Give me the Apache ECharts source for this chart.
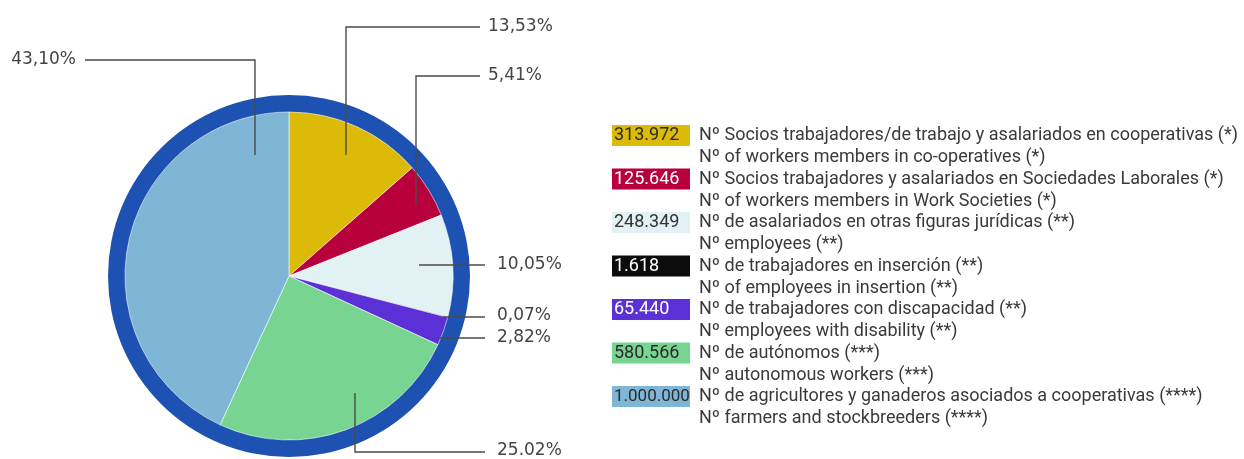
<!DOCTYPE html>
<html>
<head>
<meta charset="utf-8">
<script src="https://cdn.jsdelivr.net/npm/echarts@6/dist/echarts.min.js"></script>
<style>
  html, body { margin: 0; padding: 0; background: #fff; }
  #main { width: 1244px; height: 459px; }
</style>
</head>
<body>
<div id="main"></div>
<script>
// datos del gráfico
const keys = ['coop', 'sal', 'otras', 'insercion', 'discap', 'autonomos', 'agric'];
const shares = [13.53, 5.41, 10.05, 0.07, 2.82, 25.02, 43.10];
const shareLabels = ['13,53%', '5,41%', '10,05%', '0,07%', '2,82%', '25.02%', '43,10%'];
const counts = ['313.972', '125.646', '248.349', '1.618', '65.440', '580.566', '1.000.000'];
const textEs = [
    'Nº Socios trabajadores/de trabajo y asalariados en cooperativas (*)',
    'Nº Socios trabajadores y asalariados en Sociedades Laborales (*)',
    'Nº de asalariados en otras figuras jurídicas (**)',
    'Nº de trabajadores en inserción (**)',
    'Nº de trabajadores con discapacidad (**)',
    'Nº de autónomos (***)',
    'Nº de agricultores y ganaderos asociados a cooperativas (****)'
];
const textEn = [
    'Nº of workers members in co-operatives (*)',
    'Nº of workers members in Work Societies (*)',
    'Nº employees (**)',
    'Nº of employees in insertion (**)',
    'Nº employees with disability (**)',
    'Nº autonomous workers (***)',
    'Nº farmers and stockbreeders (****)'
];

// estilos
const colors = ['#dcbb08', '#b8003c', '#e2f1f3', '#0c0c0c', '#5b30d6', '#78d591', '#7fb6d5'];
const boxText = ['#2a2a2a', '#fff', '#333', '#fff', '#fff', '#2a2a2a', '#2a2a2a'];
const ringColor = '#1d52b2';
const FONT = 'Roboto';

// posiciones de las líneas guía (anclaje, codo, fin) y de las etiquetas
const leaders = [
    { pts: [[346, 155], [346, 27], [480, 27]], lx: 488, ly: 27, align: 'left' },
    { pts: [[416, 205], [416, 76], [480, 76]], lx: 488, ly: 76, align: 'left' },
    { pts: [[419, 265], [485, 265]], lx: 497, ly: 265, align: 'left' },
    { pts: [[443, 317], [485, 317]], lx: 497, ly: 316, align: 'left' },
    { pts: [[437, 338], [485, 338]], lx: 497, ly: 338, align: 'left' },
    { pts: [[355, 393], [355, 452], [485, 452]], lx: 497, ly: 451, align: 'left' },
    { pts: [[255, 155], [255, 60], [85, 60]], lx: 76, ly: 60, align: 'right' }
];

const rich = {
    g: { width: 9 },
    sp: { width: 87, height: 22 },
    t: { fontFamily: FONT, fontSize: 18, color: '#3a3a3a', lineHeight: 22 }
};
colors.forEach((c, i) => {
    rich['b' + i] = {
        backgroundColor: c, color: boxText[i], fontFamily: FONT,
        fontSize: counts[i].length > 7 ? 17 : 18,
        width: 74, height: 21, lineHeight: 22, padding: [0, 2, 0, 2], align: 'left'
    };
});

const chart = echarts.init(document.getElementById('main'));
chart.setOption({
    backgroundColor: '#fff',
    animation: false,
    legend: {
        orient: 'vertical',
        left: 602,
        top: 120,
        itemGap: 2,
        itemWidth: 0,
        itemHeight: 0,
        icon: 'none',
        selectedMode: false,
        data: keys,
        formatter: name => {
            const i = keys.indexOf(name);
            return '{b' + i + '|' + counts[i] + '}{g|}{t|' + textEs[i] + '}\n{sp|}{t|' + textEn[i] + '}';
        },
        textStyle: { rich: rich }
    },
    graphic: leaders.map(l => ({
        type: 'polyline',
        z: 100,
        silent: true,
        shape: { points: l.pts },
        style: { stroke: '#4a4a4a', lineWidth: 1.4, fill: null }
    })),
    series: [
        {
            type: 'pie',
            silent: true,
            center: [289, 276],
            radius: [163, 181],
            label: { show: false },
            labelLine: { show: false },
            itemStyle: { color: ringColor },
            data: [{ name: 'anillo', value: 1 }]
        },
        {
            type: 'pie',
            center: [289, 276],
            radius: [0, 164],
            startAngle: 90,
            clockwise: true,
            avoidLabelOverlap: false,
            itemStyle: { borderColor: 'rgba(255,255,255,0.55)', borderWidth: 1 },
            label: {
                show: true,
                position: 'outside',
                fontFamily: 'DejaVu Sans',
                fontSize: 17,
                color: '#444',
                formatter: p => shareLabels[p.dataIndex]
            },
            labelLine: { show: false },
            labelLayout: p => {
                const l = leaders[p.dataIndex];
                return { x: l.lx, y: l.ly, align: l.align, verticalAlign: 'middle' };
            },
            data: keys.map((k, i) => ({ name: k, value: shares[i], itemStyle: { color: colors[i] } }))
        }
    ]
});
</script>
</body>
</html>
